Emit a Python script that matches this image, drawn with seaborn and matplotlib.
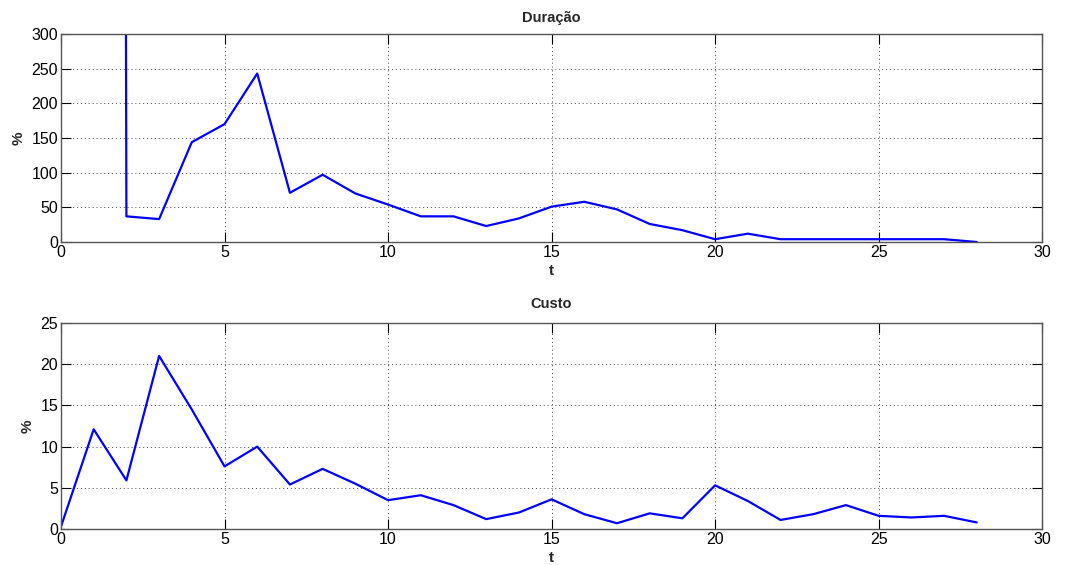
import matplotlib

matplotlib.use("Agg")

import matplotlib.pyplot as plt
import numpy as np
import pandas as pd
import seaborn as sns

# Duração (%), starts at t=1 with a value far above the axis
t_duracao = [1, 2, 3, 4, 5, 6, 7, 8, 9, 10, 11, 12, 13, 14, 15, 16, 17, 18, 19, 20,
             21, 22, 23, 24, 25, 26, 27, 28]
duracao = [20000, 37, 33, 144, 170, 243, 71, 97, 70, 54, 37, 37, 23, 34, 51, 58, 47, 26, 17, 4,
           12, 4, 4, 4, 4, 4, 4, 0]

# Custo (%)
t_custo = list(range(29))
custo = [0.3, 12.1, 5.9, 21.0, 14.5, 7.6, 10.0, 5.4, 7.3, 5.5, 3.5, 4.1, 2.9, 1.2, 2.0,
         3.6, 1.8, 0.7, 1.9, 1.3, 5.3, 3.4, 1.1, 1.8, 2.9, 1.6, 1.4, 1.6, 0.8]

sns.set_style("white")
plt.rcParams["font.family"] = ["Liberation Sans", "DejaVu Sans"]

fig = plt.figure(figsize=(10.7, 5.65), dpi=100)
ax1 = fig.add_axes([0.057, 0.5717, 0.917, 0.3681])
ax2 = fig.add_axes([0.057, 0.0637, 0.917, 0.3646])

panels = [
    (ax1, t_duracao, duracao, "Duração", (0, 300), np.arange(0, 301, 50), 9),
    (ax2, t_custo, custo, "Custo", (0, 25), np.arange(0, 26, 5), 11),
]

for ax, t, y, title, ylim, yticks, title_pad in panels:
    df = pd.DataFrame({"t": t, "y": y})
    sns.lineplot(data=df, x="t", y="y", color="#0000FF", linewidth=1.6,
                 estimator=None, ax=ax)
    ax.set_xlim(0, 30)
    ax.set_ylim(*ylim)
    ax.set_xticks(np.arange(0, 31, 5))
    ax.set_yticks(yticks)
    ax.grid(True, linestyle=(0, (1, 3)), color="#444444", linewidth=0.7)
    ax.set_title(title, fontsize=10.5, fontweight="bold", pad=title_pad)
    ax.set_xlabel("t", fontsize=11, fontweight="bold", labelpad=3)
    ax.set_ylabel("%", fontsize=11, fontweight="bold", labelpad=4)
    ax.tick_params(direction="in", length=7, width=0.8, labelsize=11.5, colors="black",
                   top=True, right=True, bottom=True, left=True, pad=2)
    for spine in ax.spines.values():
        spine.set_visible(True)
        spine.set_color("#555555")
        spine.set_linewidth(1.0)

fig.savefig("out.png", dpi=100, facecolor="white")
